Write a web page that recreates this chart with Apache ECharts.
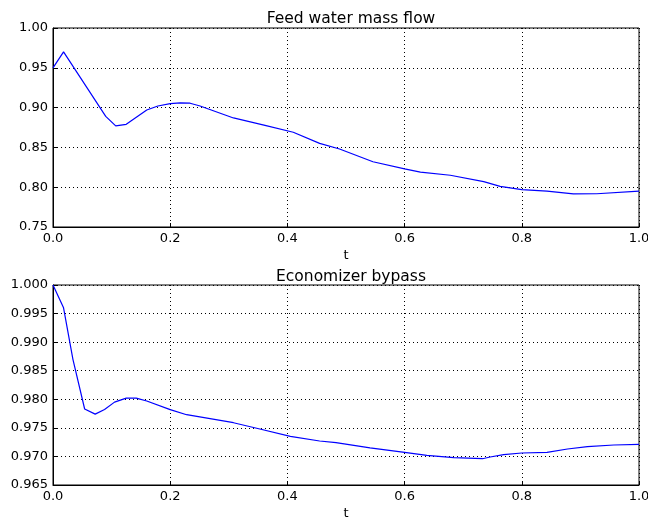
<!DOCTYPE html>
<html><head><meta charset="utf-8">
<script src="https://cdn.jsdelivr.net/npm/echarts@6/dist/echarts.min.js"></script>
<style>html,body{margin:0;padding:0;background:#fff}#c{width:648px;height:519px}</style>
</head><body><div id="c"></div>
<script>
var titles = ["Feed water mass flow", "Economizer bypass"];
var xTicks = [0.0, 0.2, 0.4, 0.6, 0.8, 1.0];
var feedT = [0, 0.018, 0.09, 0.107, 0.125, 0.16, 0.179, 0.2, 0.217, 0.234, 0.251, 0.308, 0.36, 0.41, 0.455, 0.489, 0.546, 0.6, 0.627, 0.678, 0.735, 0.763, 0.8, 0.843, 0.888, 0.928, 1.0];
var feedV = [0.95, 0.970, 0.889, 0.877, 0.879, 0.897, 0.902, 0.905, 0.906, 0.9055, 0.902, 0.887, 0.878, 0.869, 0.855, 0.848, 0.832, 0.823, 0.819, 0.815, 0.807, 0.801, 0.797, 0.795, 0.7915, 0.7918, 0.795];
var econT = [0, 0.018, 0.034, 0.054, 0.072, 0.088, 0.105, 0.125, 0.142, 0.16, 0.2, 0.228, 0.308, 0.353, 0.405, 0.455, 0.483, 0.541, 0.6, 0.638, 0.684, 0.733, 0.746, 0.769, 0.8, 0.843, 0.878, 0.912, 0.957, 1.0];
var econV = [1.000, 0.996, 0.987, 0.9783, 0.9774, 0.9782, 0.9795, 0.9802, 0.9802, 0.9797, 0.9782, 0.9773, 0.9759, 0.9748, 0.9735, 0.9727, 0.9724, 0.9715, 0.9707, 0.9702, 0.9698, 0.9696, 0.9699, 0.9703, 0.9706, 0.9707, 0.9713, 0.9717, 0.9720, 0.9721];
var yRanges = [[0.75, 1.00, 0.05, 2], [0.965, 1.000, 0.005, 3]];

var font = "DejaVu Sans";
function pairs(t, v){ return t.map(function(x,i){ return [x, v[i]]; }); }
var grids = [
  {left:53, right:9, top:28, height:199, show:true, borderColor:'#000', borderWidth:1, backgroundColor:'transparent', containLabel:false, outerBoundsMode:'none'},
  {left:53, right:9, top:285, height:200, show:true, borderColor:'#000', borderWidth:1, backgroundColor:'transparent', containLabel:false, outerBoundsMode:'none'}
];
function xAx(i){
  return {type:'value', gridIndex:i, min:0, max:1, interval:0.2, name:'t', nameLocation:'middle', nameGap:22,
    nameTextStyle:{color:'#000', fontFamily:font, fontSize:13},
    axisLine:{show:true, lineStyle:{color:'#000'}}, axisTick:{show:true, inside:true, length:4, lineStyle:{color:'#000'}},
    axisLabel:{color:'#000', fontFamily:font, fontSize:13, margin:5, formatter:function(v){return v.toFixed(1);}},
    splitLine:{show:true, lineStyle:{color:'#000', type:[1,3], width:1}}};
}
function yAx(i){
  var r = yRanges[i];
  return {type:'value', gridIndex:i, min:r[0], max:r[1], interval:r[2],
    axisLine:{show:true, lineStyle:{color:'#000'}}, axisTick:{show:true, inside:true, length:4, lineStyle:{color:'#000'}},
    axisLabel:{color:'#000', fontFamily:font, fontSize:13, margin:5, formatter:function(v){return v.toFixed(r[3]);}},
    splitLine:{show:true, lineStyle:{color:'#000', type:[1,3], width:1}}};
}
var chart = echarts.init(document.getElementById('c'), null, {renderer:'canvas'});
chart.setOption({
  animation:false,
  backgroundColor:'#fff',
  title:[
    {text:titles[0], left:346, top:6, textAlign:'center', textStyle:{color:'#000', fontFamily:font, fontSize:15.5, fontWeight:'normal'}},
    {text:titles[1], left:346, top:264, textAlign:'center', textStyle:{color:'#000', fontFamily:font, fontSize:15.5, fontWeight:'normal'}}
  ],
  grid:grids,
  xAxis:[xAx(0), xAx(1)],
  yAxis:[yAx(0), yAx(1)],
  series:[
    {type:'line', xAxisIndex:0, yAxisIndex:0, data:pairs(feedT, feedV), showSymbol:false, lineStyle:{color:'#0000ff', width:1.2}, z:5},
    {type:'line', xAxisIndex:1, yAxisIndex:1, data:pairs(econT, econV), showSymbol:false, lineStyle:{color:'#0000ff', width:1.2}, z:5}
  ]
});
</script></body></html>
